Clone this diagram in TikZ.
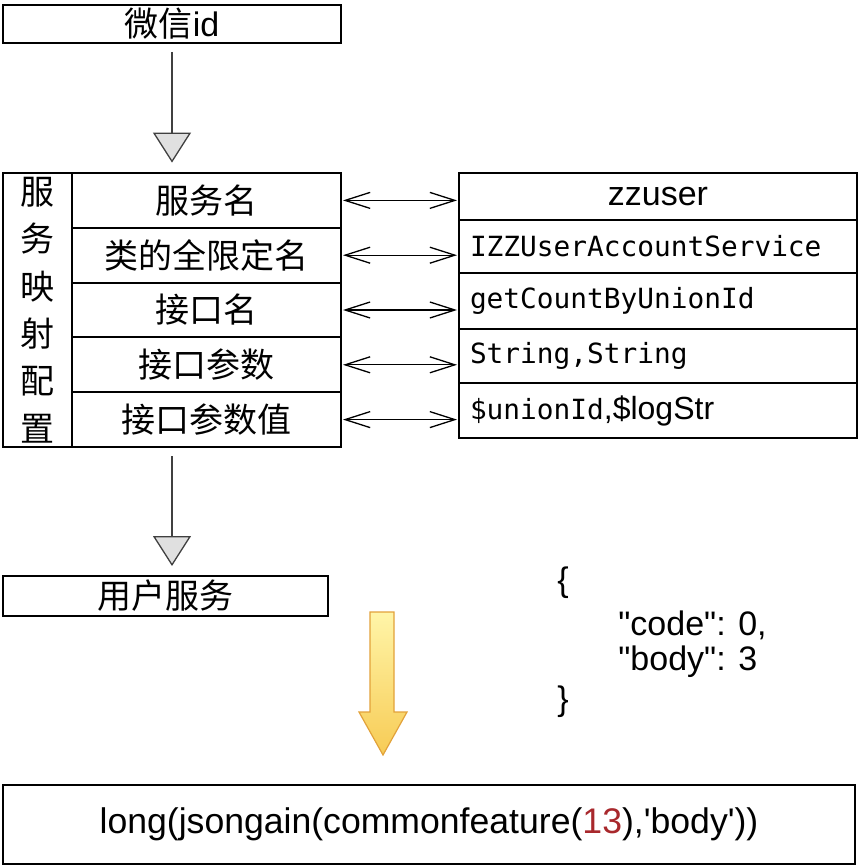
\documentclass[tikz,border=0pt]{standalone}
\usepackage{fontspec}
\setmainfont{Liberation Sans}
\setmonofont{DejaVu Sans Mono}
\newfontfamily\cjk{Noto Sans CJK SC}
\newfontfamily\helv{Liberation Sans}
\usetikzlibrary{
  arrows.meta,
  positioning,
  fit
}
\definecolor{numred}{HTML}{A8282C}
\definecolor{bigarrowline}{HTML}{E2A23A}
\definecolor{bigarrowtop}{HTML}{FFF5A8}
\definecolor{bigarrowbottom}{HTML}{F7CB55}

\begin{document}
\begin{tikzpicture}[
            x=0.5pt, y=-0.5pt,
            % Stili dei nodi
            box/.style={rectangle, draw=black, line width=0.95pt, inner sep=0pt, outer sep=0pt},
            cjkfont/.style={font=\fontsize{17}{20}\selectfont\cjk},
            leftrow/.style={box, cjkfont, minimum width=134.5pt, minimum height=27.4pt},
            rightrow/.style={box, minimum width=199pt, text width=188pt, inner xsep=5.5pt, align=left, font=\fontsize{13.9}{16}\selectfont\ttfamily},
            jsontext/.style={anchor=west, inner sep=0pt, font=\fontsize{17}{20}\selectfont\helv},
            flow/.style={draw=black!75, line width=0.65pt, -{Triangle[length=15pt,width=19pt,fill=black!12]}, shorten <=4.5pt, shorten >=5pt},
            link/.style={line width=0.65pt, {Straight Barb[length=12.5pt,width=8pt]}-{Straight Barb[length=12.5pt,width=8pt]}, shorten <=1pt, shorten >=1pt}
        ]
        \useasboundingbox (0,0) rectangle (858,866);

        % Nodi
        \node (weixin) [box, anchor=north west, minimum width=169pt, minimum height=19pt, font=\fontsize{17}{20}\selectfont] at (3,5) {{\cjk 微信}id};

        % Tabella di sinistra
        \node (cfgtitle) [box, anchor=north west, minimum width=34.5pt, minimum height=137pt, text width=34.5pt, align=center, font=\fontsize{17}{23.7}\selectfont\cjk] at (3,173) {服\\务\\映\\射\\配\\置};
        \node (l1) [leftrow, anchor=north west] at (72,173) {服务名};
        \node (l2) [leftrow, below=0pt of l1] {类的全限定名};
        \node (l3) [leftrow, below=0pt of l2] {接口名};
        \node (l4) [leftrow, below=0pt of l3] {接口参数};
        \node (l5) [leftrow, below=0pt of l4] {接口参数值};
        \node (cfg) [fit=(cfgtitle)(l1)(l5), inner sep=0pt] {};

        % Tabella di destra
        \node (r1) [rightrow, anchor=north west, minimum height=23.5pt, align=center, font=\fontsize{17}{20}\selectfont\helv] at (459,173) {zzuser};
        \node (r2) [rightrow, below=0pt of r1, minimum height=26.5pt] {IZZUserAccountService};
        \node (r3) [rightrow, below=0pt of r2, minimum height=28pt] {getCountByUnionId};
        \node (r4) [rightrow, below=0pt of r3, minimum height=27pt] {String,String};
        \node (r5) [rightrow, below=0pt of r4, minimum height=27.5pt] {\$unionId{\fontsize{16}{18}\selectfont\helv,\$logStr}};

        \node (svc) [box, cjkfont, anchor=north west, minimum width=162.5pt, minimum height=20pt] at (3,576) {用户服务};

        % Risposta
        \node (jopen) [jsontext] at (557,583) {\{};
        \node (jcode) [jsontext] at (618,625) {"code": 0,};
        \node (jbody) [jsontext] at (618,662) {"body": 3};
        \node (jclose) [jsontext] at (557,702) {\}};

        \node (expr) [box, anchor=north west, minimum width=426pt, minimum height=39.5pt, font=\fontsize{17.8}{20}\selectfont\helv] at (3,785) {long(jsongain(commonfeature(\textcolor{numred}{13}),'body'))};

        % Collegamenti
        \draw [flow] (weixin) -- (cfg);
        \draw [flow] (cfg) -- (cfg.south |- svc.north);
        \foreach \i in {1,...,5}
            \draw [link] (l\i.east) -- (l\i.east -| r\i.west);

        % Freccia gialla
        \draw [bigarrowline, line width=0.6pt, top color=bigarrowtop, bottom color=bigarrowbottom]
            (370,612) -- (394,612) -- (394,712) -- (407,712) -- (383,755) -- (359,712) -- (370,712) -- cycle;

    \end{tikzpicture}
\end{document}
